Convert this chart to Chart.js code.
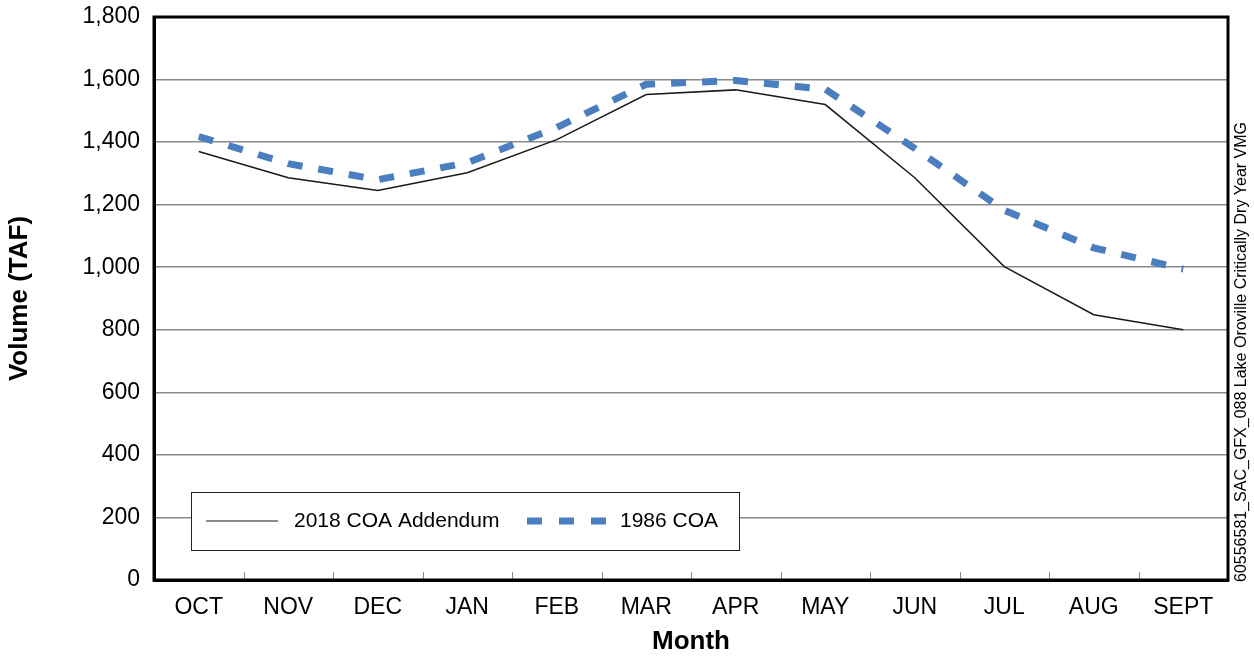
<!DOCTYPE html>
<html>
<head>
<meta charset="utf-8">
<script src="https://cdn.jsdelivr.net/npm/chart.js@4"></script>
<style>
  html, body { margin: 0; padding: 0; background: #fff; }
  #wrap { width: 1254px; height: 658px; }
</style>
</head>
<body>
<div id="wrap"><canvas id="grafico"></canvas></div>
<script>
// dados
const meses = ['OCT', 'NOV', 'DEC', 'JAN', 'FEB', 'MAR', 'APR', 'MAY', 'JUN', 'JUL', 'AUG', 'SEPT'];
const addendum2018 = [1370, 1286, 1245, 1302, 1408, 1552, 1567, 1520, 1286, 1002, 848, 800];
const coa1986 = [1418, 1331, 1280, 1334, 1447, 1585, 1597, 1569, 1380, 1182, 1062, 994];
const nomeSeries = ['2018 COA Addendum', '1986 COA'];
const notaLateral = '60556581_SAC_GFX_088 Lake Oroville Critically Dry Year VMG';

const fonte = 'Arial, "Liberation Sans", sans-serif';

// moldura, marcas internas no eixo x, legenda dentro do gráfico e texto lateral
const extras = {
  id: 'extras',
  afterDatasetsDraw(chart) {
    const ctx = chart.ctx;
    const a = chart.chartArea;
    const x = chart.scales.x;

    ctx.save();
    // marcas entre os meses
    ctx.strokeStyle = '#8a8a8a';
    ctx.lineWidth = 1;
    for (let i = 1; i < meses.length; i++) {
      const px = Math.round((x.getPixelForValue(i - 1) + x.getPixelForValue(i)) / 2) + 0.5;
      ctx.beginPath();
      ctx.moveTo(px, a.bottom - 8);
      ctx.lineTo(px, a.bottom);
      ctx.stroke();
    }

    // moldura
    ctx.strokeStyle = '#000';
    ctx.lineWidth = 3;
    ctx.strokeRect(a.left, a.top, a.right - a.left, a.bottom - a.top);

    // legenda
    const lx = a.left + 37, ly = a.bottom - 88, lw = 548, lh = 58;
    ctx.fillStyle = '#fff';
    ctx.fillRect(lx, ly, lw, lh);
    ctx.strokeStyle = '#222';
    ctx.lineWidth = 1;
    ctx.strokeRect(lx + 0.5, ly + 0.5, lw, lh);
    const cy = ly + lh / 2;
    const ds = chart.data.datasets;
    ctx.font = '21px ' + fonte;
    ctx.textBaseline = 'middle';
    ctx.textAlign = 'left';

    ctx.strokeStyle = ds[0].borderColor;
    ctx.lineWidth = 1;
    ctx.beginPath();
    ctx.moveTo(lx + 15, cy);
    ctx.lineTo(lx + 87, cy);
    ctx.stroke();
    ctx.fillStyle = '#000';
    ctx.fillText(ds[0].label, lx + 103, cy);

    ctx.strokeStyle = ds[1].borderColor;
    ctx.lineWidth = ds[1].borderWidth;
    ctx.setLineDash([15, 17]);
    ctx.beginPath();
    ctx.moveTo(lx + 336, cy);
    ctx.lineTo(lx + 415, cy);
    ctx.stroke();
    ctx.setLineDash([]);
    ctx.fillText(ds[1].label, lx + 429, cy);

    // texto vertical à direita
    ctx.translate(a.right + 14, a.bottom + 2);
    ctx.rotate(-Math.PI / 2);
    ctx.font = '16px ' + fonte;
    ctx.fillStyle = '#000';
    ctx.textBaseline = 'middle';
    ctx.fillText(notaLateral, 0, 0);
    ctx.restore();
  }
};

new Chart(document.getElementById('grafico').getContext('2d'), {
  type: 'line',
  data: {
    labels: meses,
    datasets: [
      {
        label: nomeSeries[0],
        data: addendum2018,
        borderColor: '#1a1a1a',
        borderWidth: 1.5,
        pointRadius: 0,
        tension: 0
      },
      {
        label: nomeSeries[1],
        data: coa1986,
        borderColor: '#4a7ebf',
        borderWidth: 7,
        borderDash: [15, 16],
        borderCapStyle: 'butt',
        pointRadius: 0,
        tension: 0
      }
    ]
  },
  options: {
    responsive: true,
    maintainAspectRatio: false,
    animation: false,
    layout: { padding: { top: 17, right: 26, bottom: 0, left: 0 } },
    plugins: {
      legend: { display: false },
      tooltip: { enabled: false }
    },
    scales: {
      x: {
        offset: true,
        grid: { display: false, drawTicks: false },
        border: { display: true, color: '#000', width: 3 },
        ticks: { color: '#000', font: { size: 23, family: fonte }, padding: 14, maxRotation: 0 },
        title: { display: true, text: 'Month', color: '#000', font: { size: 26, weight: 'bold', family: fonte }, padding: { top: 0, bottom: 1 } },
        afterFit(scale) { scale.height = 78; }
      },
      y: {
        min: 0,
        max: 1800,
        grid: { color: '#8a8a8a', lineWidth: 1.5, drawTicks: false },
        border: { display: true, color: '#000', width: 3 },
        ticks: {
          stepSize: 200,
          color: '#000',
          font: { size: 23, family: fonte },
          padding: 14,
          callback: v => v.toLocaleString('en-US')
        },
        title: { display: true, text: 'Volume (TAF)', color: '#000', font: { size: 26, weight: 'bold', family: fonte }, padding: { top: 4, bottom: 0 } },
        afterFit(scale) {
          scale.width = 154;
          scale.paddingTop = 0;
          scale.paddingBottom = 0;
        }
      }
    }
  },
  plugins: [extras]
});
</script>
</body>
</html>
